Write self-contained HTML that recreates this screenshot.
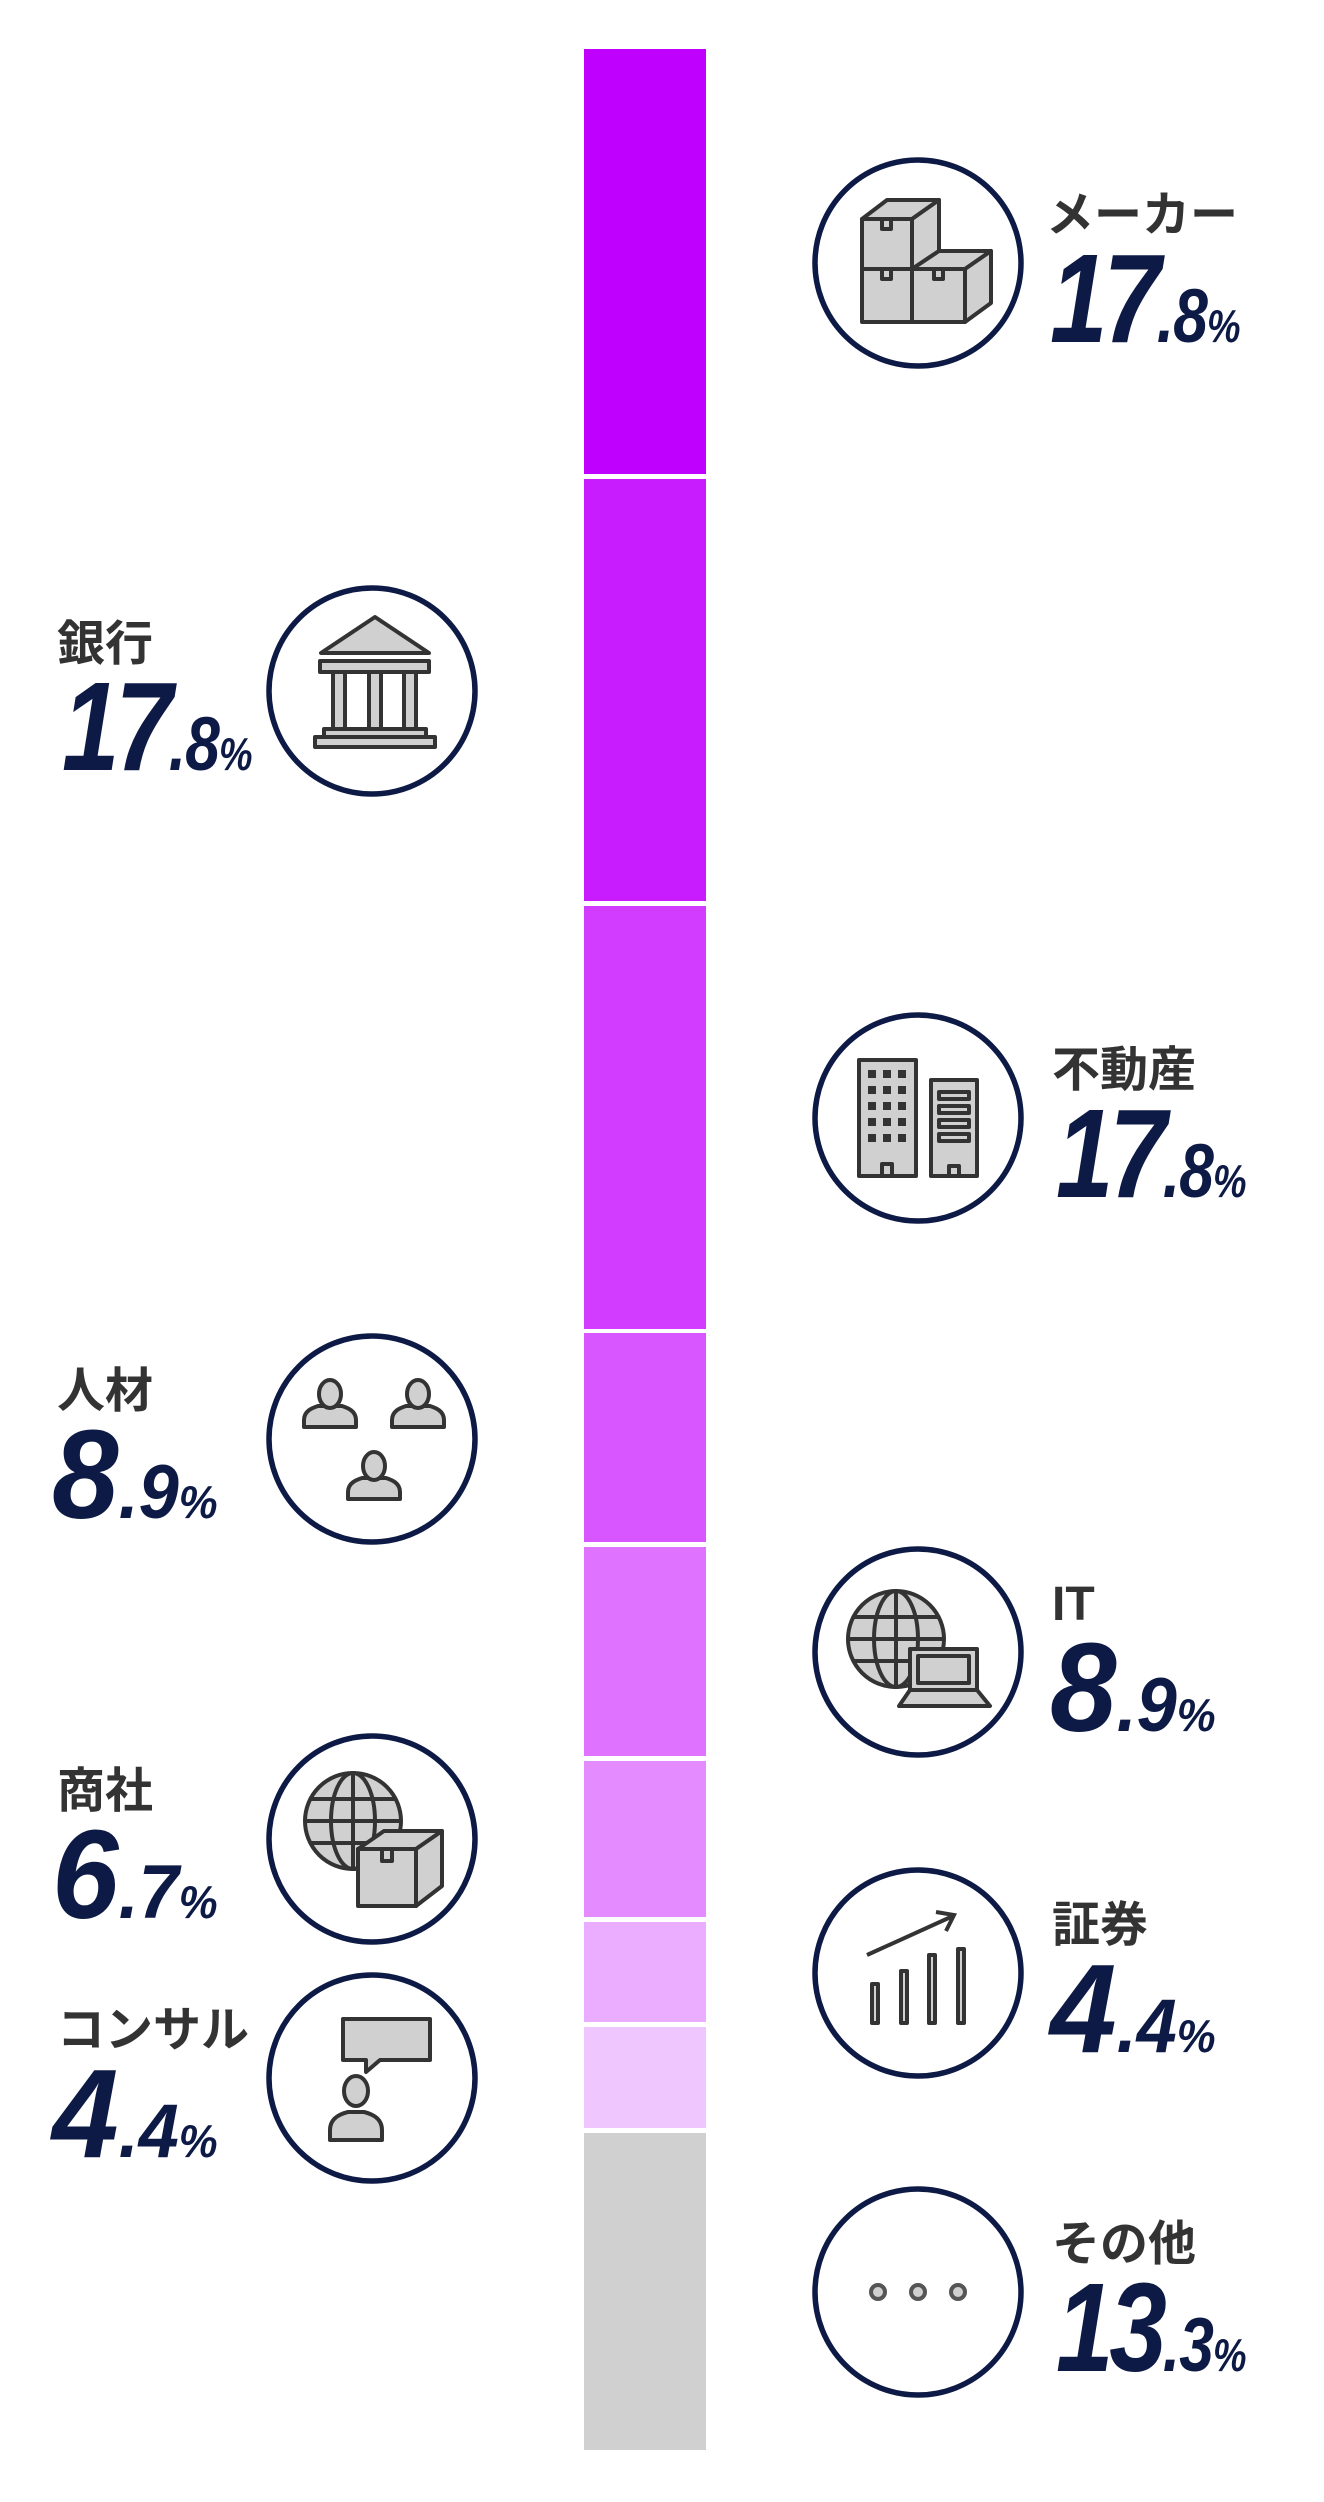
<!DOCTYPE html>
<html><head><meta charset="utf-8"><style>
html,body{margin:0;padding:0;background:#fff;}
svg{display:block;}
.lb{font-family:"Liberation Sans","Noto Sans CJK JP",sans-serif;font-weight:bold;font-size:48px;fill:#333;}
.nm{font-family:"Liberation Sans",sans-serif;font-weight:bold;font-style:italic;fill:#0d1a45;}
.ic{fill:#d0d0d0;stroke:#333;stroke-width:4;stroke-linejoin:round;}
.ln{fill:none;stroke:#333;stroke-width:4;}
</style></head><body>
<svg width="1324" height="2502" viewBox="0 0 1324 2502" xmlns="http://www.w3.org/2000/svg">
<defs>
<linearGradient id="gr" x1="0" x2="1"><stop offset="0" stop-color="#a020ff"/><stop offset="1" stop-color="#1e7bff"/></linearGradient>
<linearGradient id="gl" x1="0" x2="1"><stop offset="0" stop-color="#1e7bff"/><stop offset="1" stop-color="#b010ff"/></linearGradient>
</defs>
<rect x="584" y="49" width="122" height="425" fill="#c000ff"/>
<rect x="584" y="479" width="122" height="422" fill="#c81cff"/>
<rect x="584" y="906" width="122" height="423" fill="#d23cff"/>
<rect x="584" y="1333" width="122" height="209" fill="#d856ff"/>
<rect x="584" y="1547" width="122" height="209" fill="#df72ff"/>
<rect x="584" y="1761" width="122" height="156" fill="#e48cff"/>
<rect x="584" y="1922" width="122" height="100" fill="#eaadff"/>
<rect x="584" y="2027" width="122" height="101" fill="#f0c6ff"/>
<rect x="584" y="2133" width="122" height="317" fill="#d0d0d0"/>

<g stroke-width="4">
<line x1="706" x2="814" y1="263" y2="263" stroke="url(#gr)"/>
<line x1="478" x2="584" y1="691" y2="691" stroke="url(#gl)"/>
<line x1="706" x2="814" y1="1118" y2="1118" stroke="url(#gr)"/>
<line x1="478" x2="584" y1="1439" y2="1439" stroke="url(#gl)"/>
<line x1="706" x2="814" y1="1652" y2="1652" stroke="url(#gr)"/>
<line x1="478" x2="584" y1="1839" y2="1839" stroke="url(#gl)"/>
<line x1="706" x2="814" y1="1973" y2="1973" stroke="url(#gr)"/>
<line x1="478" x2="584" y1="2078" y2="2078" stroke="url(#gl)"/>
<line x1="706" x2="814" y1="2292" y2="2292" stroke="url(#gr)"/>
</g>

<g fill="#fff" stroke="#0d1a45" stroke-width="5.5">
<circle cx="918" cy="263" r="103"/>
<circle cx="372" cy="691" r="103"/>
<circle cx="918" cy="1118" r="103"/>
<circle cx="372" cy="1439" r="103"/>
<circle cx="918" cy="1652" r="103"/>
<circle cx="372" cy="1839" r="103"/>
<circle cx="918" cy="1973" r="103"/>
<circle cx="372" cy="2078" r="103"/>
<circle cx="918" cy="2292" r="103"/>
</g>

<g transform="translate(918,263)">
<polygon class="ic" points="-56,-44 -31,-63 21,-63 -6,-44"/>
<polygon class="ic" points="-6,-44 21,-63 21,-12 -6,6"/>
<rect class="ic" x="-56" y="-44" width="50" height="50"/>
<rect class="ic" x="-56" y="6" width="50" height="53"/>
<rect class="ic" x="-6" y="6" width="53" height="53"/>
<polygon class="ic" points="-6,6 21,-12 73,-12 47,6"/>
<polygon class="ic" points="47,6 73,-12 73,40 47,59"/>
<rect class="ic" x="-36" y="-44" width="9" height="10" fill="#fff"/>
<rect class="ic" x="-36" y="6" width="9" height="10" fill="#fff"/>
<rect class="ic" x="16" y="6" width="9" height="10" fill="#fff"/>
</g>
<g transform="translate(372,691)">
<polygon class="ic" points="3,-74 -51,-38 57,-38"/>
<rect class="ic" x="-52" y="-30" width="109" height="11"/>
<rect class="ic" x="-39" y="-19" width="12" height="57"/>
<rect class="ic" x="-3" y="-19" width="12" height="57"/>
<rect class="ic" x="32" y="-19" width="12" height="57"/>
<rect class="ic" x="-48" y="38" width="102" height="8"/>
<rect class="ic" x="-57" y="46" width="120" height="10"/>
</g>
<g transform="translate(918,1118)">
<rect class="ic" x="-59" y="-58" width="57" height="116"/>
<rect class="ic" x="13" y="-38" width="46" height="96"/>
<g fill="#333">
<rect x="-50" y="-48" width="8" height="8"/><rect x="-35" y="-48" width="8" height="8"/><rect x="-20" y="-48" width="8" height="8"/>
<rect x="-50" y="-32" width="8" height="8"/><rect x="-35" y="-32" width="8" height="8"/><rect x="-20" y="-32" width="8" height="8"/>
<rect x="-50" y="-16" width="8" height="8"/><rect x="-35" y="-16" width="8" height="8"/><rect x="-20" y="-16" width="8" height="8"/>
<rect x="-50" y="0" width="8" height="8"/><rect x="-35" y="0" width="8" height="8"/><rect x="-20" y="0" width="8" height="8"/>
<rect x="-50" y="16" width="8" height="8"/><rect x="-35" y="16" width="8" height="8"/><rect x="-20" y="16" width="8" height="8"/>
</g>
<g class="ic" fill="#fff"><rect x="21" y="-26" width="30" height="7"/><rect x="21" y="-12" width="30" height="7"/><rect x="21" y="2" width="30" height="7"/><rect x="21" y="16" width="30" height="7"/>
<rect x="-36" y="46" width="10" height="12"/><rect x="31" y="48" width="10" height="10"/></g>
</g>
<g transform="translate(330,1439)"><path class="ic" d="M-26,-12 v-7 c0,-9 8,-12 14,-14 h24 c6,2 14,5 14,14 v7 z"/><ellipse class="ic" cx="0" cy="-45" rx="11" ry="14"/></g>
<g transform="translate(418,1439)"><path class="ic" d="M-26,-12 v-7 c0,-9 8,-12 14,-14 h24 c6,2 14,5 14,14 v7 z"/><ellipse class="ic" cx="0" cy="-45" rx="11" ry="14"/></g>
<g transform="translate(374,1511)"><path class="ic" d="M-26,-12 v-7 c0,-9 8,-12 14,-14 h24 c6,2 14,5 14,14 v7 z"/><ellipse class="ic" cx="0" cy="-45" rx="11" ry="14"/></g>
<g transform="translate(918,1652)">
<g transform="translate(-22,-13)"><circle class="ic" r="48"/><ellipse class="ln" rx="22" ry="48"/><line class="ln" x1="0" y1="-48" x2="0" y2="48"/><line class="ln" x1="-48" y1="0" x2="48" y2="0"/><line class="ln" x1="-42" y1="-22" x2="42" y2="-22"/><line class="ln" x1="-42" y1="22" x2="42" y2="22"/></g>
<rect class="ic" x="-8" y="-3" width="67" height="41"/><rect class="ic" x="0" y="4" width="51" height="27" fill="#fff"/>
<polygon class="ic" points="-8,38 59,38 72,54 -19,54"/>
</g>
<g transform="translate(372,1839)">
<g transform="translate(-19,-18)"><circle class="ic" r="48"/><ellipse class="ln" rx="22" ry="48"/><line class="ln" x1="0" y1="-48" x2="0" y2="48"/><line class="ln" x1="-48" y1="0" x2="48" y2="0"/><line class="ln" x1="-42" y1="-22" x2="42" y2="-22"/><line class="ln" x1="-42" y1="22" x2="42" y2="22"/></g>
<polygon class="ic" points="-14,10 12,-8 70,-8 44,10"/>
<polygon class="ic" points="44,10 70,-8 70,47 44,67"/>
<rect class="ic" x="-14" y="10" width="58" height="57"/>
<rect class="ic" x="10" y="10" width="10" height="12" fill="#fff"/>
</g>
<g transform="translate(918,1973)">
<rect class="ic" x="-46" y="11" width="6" height="39"/>
<rect class="ic" x="-17" y="-2" width="6" height="52"/>
<rect class="ic" x="11" y="-18" width="6" height="68"/>
<rect class="ic" x="40" y="-24" width="6" height="74"/>
<line class="ln" x1="-51" y1="-18" x2="35" y2="-57"/>
<polyline class="ln" points="18,-61 36,-58 28,-42"/>
</g>
<g transform="translate(372,2078)">
<path class="ic" d="M-29,-59 h87 v41 h-50 l-14,12 v-12 h-23 z"/>
<path class="ic" d="M-42,62 v-10 c0,-12 10,-16 18,-18 h16 c8,2 18,6 18,18 v10 z"/>
<ellipse class="ic" cx="-16" cy="13" rx="12" ry="15"/>
</g>
<g transform="translate(918,2292)" fill="#d0d0d0" stroke="#555" stroke-width="4">
<circle cx="-40" cy="0" r="7"/><circle cx="0" cy="0" r="7"/><circle cx="40" cy="0" r="7"/>
</g>

<text class="lb" x="1046" y="231">メーカー</text>
<text class="nm" transform="translate(1050,342) scale(0.82,1)" letter-spacing="-5"><tspan font-size="126">17</tspan><tspan font-size="76" letter-spacing="-1">.8</tspan><tspan font-size="46">%</tspan></text>

<text class="lb" x="57" y="660">銀行</text>
<text class="nm" transform="translate(62,770) scale(0.82,1)" letter-spacing="-5"><tspan font-size="126">17</tspan><tspan font-size="76" letter-spacing="-1">.8</tspan><tspan font-size="46">%</tspan></text>

<text class="lb" x="1052" y="1086">不動産</text>
<text class="nm" transform="translate(1056,1197) scale(0.82,1)" letter-spacing="-5"><tspan font-size="126">17</tspan><tspan font-size="76" letter-spacing="-1">.8</tspan><tspan font-size="46">%</tspan></text>

<text class="lb" x="57" y="1407">人材</text>
<text class="nm" transform="translate(52,1518) scale(0.95,1)"><tspan font-size="126">8</tspan><tspan font-size="76">.9</tspan><tspan font-size="46">%</tspan></text>

<text class="lb" x="1052" y="1620">IT</text>
<text class="nm" transform="translate(1050,1731) scale(0.95,1)"><tspan font-size="126">8</tspan><tspan font-size="76">.9</tspan><tspan font-size="46">%</tspan></text>

<text class="lb" x="57" y="1807">商社</text>
<text class="nm" transform="translate(52,1918) scale(0.95,1)"><tspan font-size="126">6</tspan><tspan font-size="76">.7</tspan><tspan font-size="46">%</tspan></text>

<text class="lb" x="1052" y="1941">証券</text>
<text class="nm" transform="translate(1050,2052) scale(0.95,1)"><tspan font-size="126">4</tspan><tspan font-size="76">.4</tspan><tspan font-size="46">%</tspan></text>

<text class="lb" x="57" y="2046">コンサル</text>
<text class="nm" transform="translate(52,2157) scale(0.95,1)"><tspan font-size="126">4</tspan><tspan font-size="76">.4</tspan><tspan font-size="46">%</tspan></text>

<text class="lb" x="1052" y="2260">その他</text>
<text class="nm" transform="translate(1056,2371) scale(0.82,1)" letter-spacing="-5"><tspan font-size="126">13</tspan><tspan font-size="76" letter-spacing="-1">.3</tspan><tspan font-size="46">%</tspan></text>
</svg>
</body></html>
